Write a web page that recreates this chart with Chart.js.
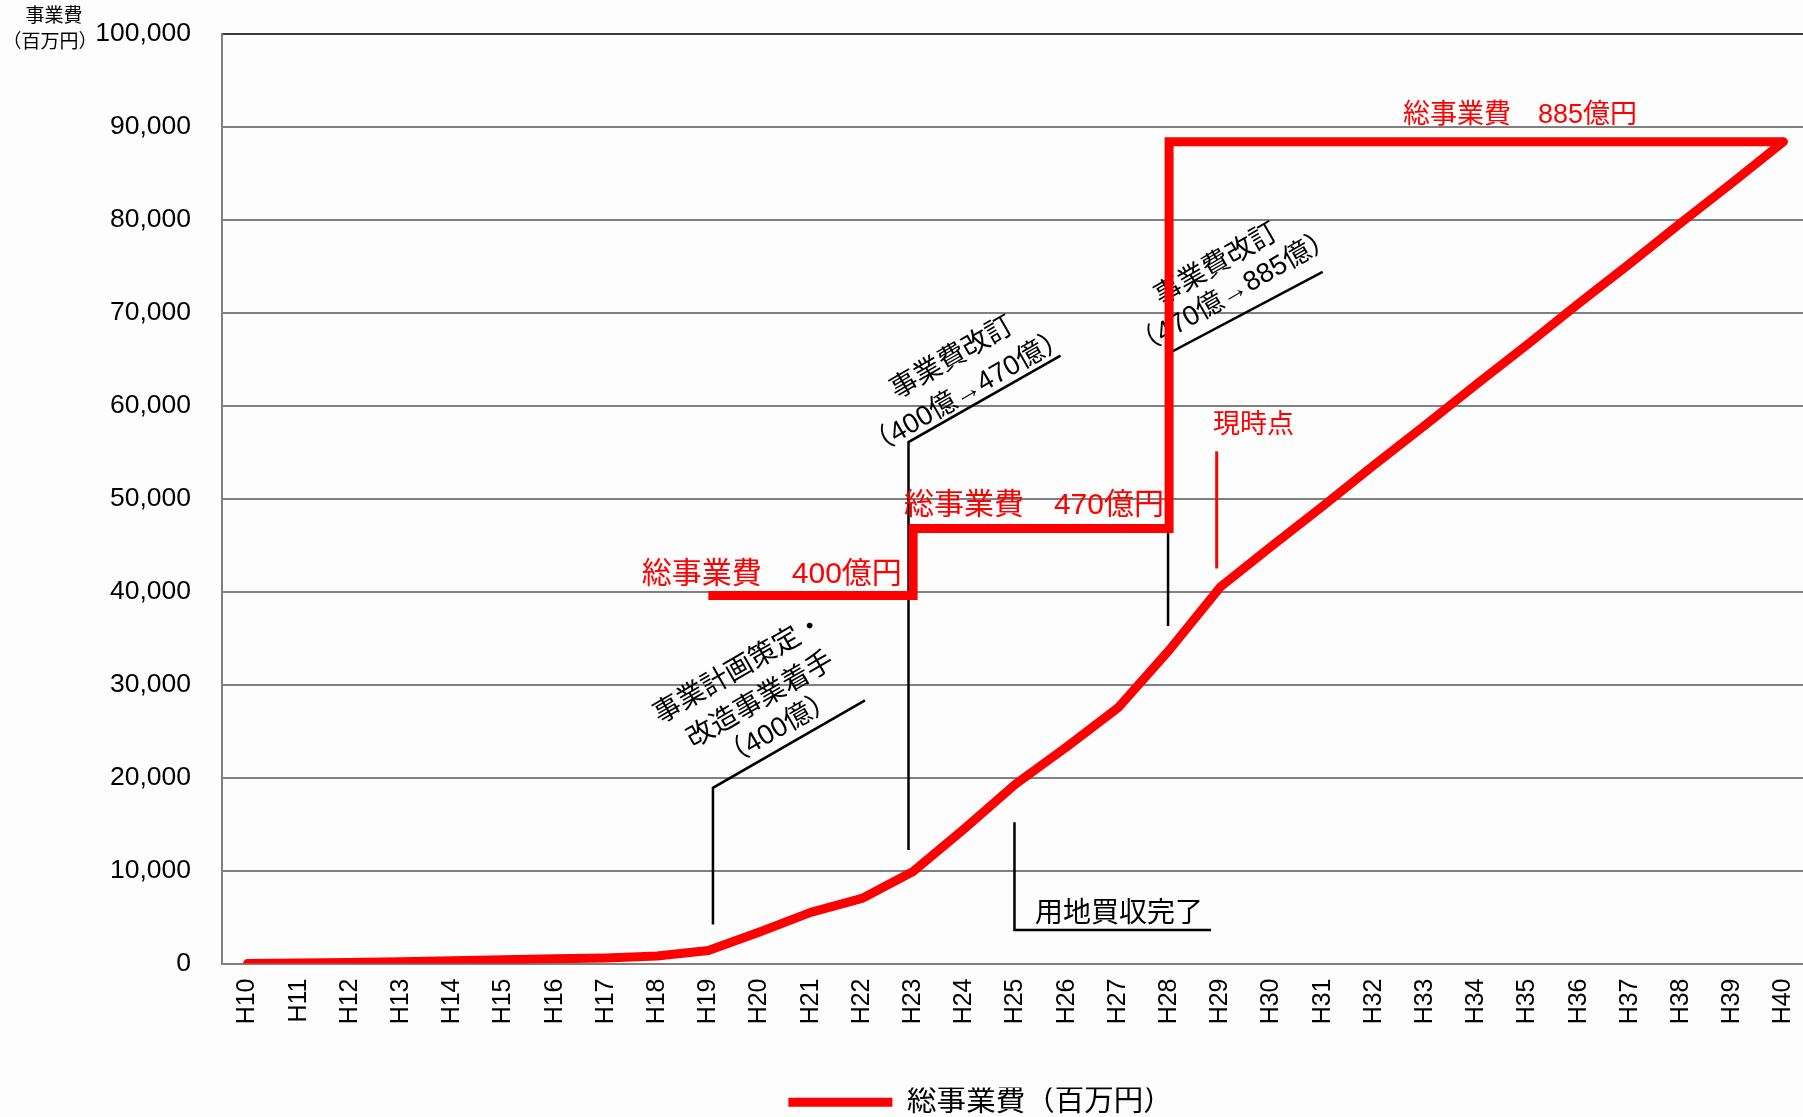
<!DOCTYPE html>
<html lang="ja">
<head>
<meta charset="UTF-8">
<title>総事業費の推移</title>
<script src="https://cdn.jsdelivr.net/npm/chart.js"></script>
<style>
    html, body {
        margin: 0;
        padding: 0;
        background: #fdfdfd;
        overflow: hidden;
    }
    #wrap {
        position: relative;
        width: 1809px;
        height: 1127px;
    }
</style>
</head>
<body>
<div id="wrap"><canvas id="costChart"></canvas></div>
<script>
    // 年度
    const years = ['H10', 'H11', 'H12', 'H13', 'H14', 'H15', 'H16', 'H17', 'H18', 'H19',
        'H20', 'H21', 'H22', 'H23', 'H24', 'H25', 'H26', 'H27', 'H28', 'H29',
        'H30', 'H31', 'H32', 'H33', 'H34', 'H35', 'H36', 'H37', 'H38', 'H39', 'H40'];

    // 累計事業費（百万円）
    const cumulativeCost = [0, 50, 100, 200, 300, 400, 500, 600, 800, 1400,
        3400, 5500, 7000, 9900, 14500, 19300, 23300, 27500, 33700, 40500,
        44900, 49200, 53600, 57900, 62300, 66600, 71000, 75300, 79700, 84000, 88400];

    // 総事業費（計画額の段階）
    const totalBudget = [null, null, null, null, null, null, null, null, null, 39600,
        39600, 39600, 39600, 46800, 46800, 46800, 46800, 46800, 88400, 88400,
        88400, 88400, 88400, 88400, 88400, 88400, 88400, 88400, 88400, 88400, 88400];

    const yTicks = [0, 10000, 20000, 30000, 40000, 50000, 60000, 70000, 80000, 90000, 100000];

    // 注記（年度インデックス, 値）
    const leaderLines = [
        {color: '#000', width: 2.5, pts: [[9.09, 4200], [9.09, 18900], [12.06, 28300]]},
        {color: '#000', width: 2.5, pts: [[12.91, 12200], [12.91, 56100], [15.88, 65400]]},
        {color: '#000', width: 2.5, pts: [[17.98, 36300], [17.98, 65600], [21.0, 74400]]},
        {color: '#000', width: 2.5, pts: [[14.98, 15200], [14.98, 3600], [18.82, 3600]]},
        {color: '#ff0000', width: 3, pts: [[18.93, 55100], [18.93, 42500]]}
    ];

    const slantNotes = [
        {text: '事業計画策定・', at: [9.61, 31640]},
        {text: '改造事業着手', at: [10.02, 28310]},
        {text: '（400億）', at: [10.37, 25220]},
        {text: '事業費改訂', at: [13.77, 65100]},
        {text: '（400億→470億）', at: [14.06, 61430]},
        {text: '事業費改訂', at: [18.93, 75150]},
        {text: '（470億→885億）', at: [19.27, 72190]}
    ];

    const flatNotes = [
        {text: '用地買収完了', at: [15.38, 5320], color: '#000', size: 28, align: 'left'},
        {text: '現時点', at: [19.65, 57850], color: '#ff0000', size: 27, align: 'center'},
        {text: '総事業費　400億円', at: [7.70, 41780], color: '#ff0000', size: 30, align: 'left'},
        {text: '総事業費　470億円', at: [12.82, 49200], color: '#ff0000', size: 30, align: 'left'},
        {text: '総事業費　885億円', at: [22.57, 91220], color: '#ff0000', size: 27, align: 'left'}
    ];

    const FONT = '"Liberation Sans", "Noto Sans CJK JP", sans-serif';
    Chart.defaults.font.family = FONT;
    Chart.defaults.color = '#000';

    const notesPlugin = {
        id: 'notes',
        afterLayout(chart) {
            // 凡例を少し左へ
            const lg = chart.legend;
            if (lg) {
                lg.left -= 35;
                lg.right -= 35;
            }
        },
        beforeDatasetsDraw(chart) {
            const ctx = chart.ctx;
            const xs = chart.scales.x, ys = chart.scales.y;
            const px = p => [xs.getPixelForValue(p[0]), ys.getPixelForValue(p[1])];
            ctx.save();
            leaderLines.forEach(l => {
                ctx.beginPath();
                l.pts.forEach((p, i) => {
                    const [x, y] = px(p);
                    if (i === 0) ctx.moveTo(x, y); else ctx.lineTo(x, y);
                });
                ctx.strokeStyle = l.color;
                ctx.lineWidth = l.width;
                ctx.stroke();
            });
            ctx.fillStyle = '#000';
            ctx.font = '27.5px ' + FONT;
            ctx.textAlign = 'center';
            ctx.textBaseline = 'middle';
            slantNotes.forEach(n => {
                const [x, y] = px(n.at);
                ctx.save();
                ctx.translate(x, y);
                ctx.rotate(-30 * Math.PI / 180);
                ctx.fillText(n.text, 0, 0);
                ctx.restore();
            });
            flatNotes.forEach(n => {
                const [x, y] = px(n.at);
                ctx.fillStyle = n.color;
                ctx.font = n.size + 'px ' + FONT;
                ctx.textAlign = n.align;
                ctx.fillText(n.text, x, y);
            });
            ctx.restore();
        },
        afterDraw(chart) {
            const ctx = chart.ctx;
            ctx.save();
            ctx.fillStyle = '#000';
            ctx.font = '19px ' + FONT;
            ctx.textAlign = 'center';
            ctx.textBaseline = 'middle';
            ctx.fillText('事業費', 54, 17);
            ctx.fillText('（百万円）', 50, 43);
            ctx.restore();
        }
    };

    new Chart(document.getElementById('costChart'), {
        type: 'line',
        data: {
            labels: years,
            datasets: [
                {
                    label: '総事業費（百万円）',
                    data: cumulativeCost,
                    borderColor: '#ff0000',
                    backgroundColor: '#ff0000',
                    borderWidth: 9,
                    borderCapStyle: 'round',
                    borderJoinStyle: 'round',
                    pointRadius: 0,
                    tension: 0
                },
                {
                    label: '総事業費',
                    data: totalBudget,
                    borderColor: '#ff0000',
                    backgroundColor: '#ff0000',
                    borderWidth: 9,
                    borderJoinStyle: 'miter',
                    pointRadius: 0,
                    stepped: true
                }
            ]
        },
        options: {
            responsive: true,
            maintainAspectRatio: false,
            animation: false,
            layout: {padding: {top: 34, left: 0, right: 0, bottom: 0}},
            plugins: {
                tooltip: {enabled: false},
                legend: {
                    position: 'bottom',
                    fullSize: false,
                    labels: {
                        boxWidth: 104,
                        boxHeight: 9,
                        padding: 0,
                        font: {size: 29.5, lineHeight: 1},
                        generateLabels: () => [{
                            text: '総事業費（百万円）',
                            fillStyle: '#ff0000',
                            strokeStyle: '#ff0000',
                            lineWidth: 0,
                            hidden: false,
                            datasetIndex: 0
                        }]
                    }
                }
            },
            scales: {
                x: {
                    offset: true,
                    grid: {display: false, drawTicks: false},
                    border: {display: false},
                    ticks: {
                        autoSkip: false,
                        maxRotation: 90,
                        minRotation: 90,
                        padding: 15,
                        font: {size: 25}
                    },
                    afterFit(scale) {
                        scale.height = 124;
                        scale.paddingLeft = 0;
                        scale.paddingRight = 0;
                    }
                },
                y: {
                    min: 0,
                    max: 100000,
                    afterBuildTicks(scale) { scale.ticks = yTicks.map(v => ({value: v})); },
                    grid: {
                        drawTicks: false,
                        lineWidth: 2,
                        color: c => c.tick && c.tick.value === 100000 ? '#3a3a3a' : '#808080'
                    },
                    border: {color: '#808080', width: 2},
                    ticks: {
                        padding: 31,
                        font: {size: 26.5},
                        callback: v => v.toLocaleString('en-US')
                    },
                    afterFit(scale) {
                        scale.width = 222;
                        scale.paddingTop = 0;
                        scale.paddingBottom = 0;
                    }
                }
            }
        },
        plugins: [notesPlugin]
    });
</script>
</body>
</html>
